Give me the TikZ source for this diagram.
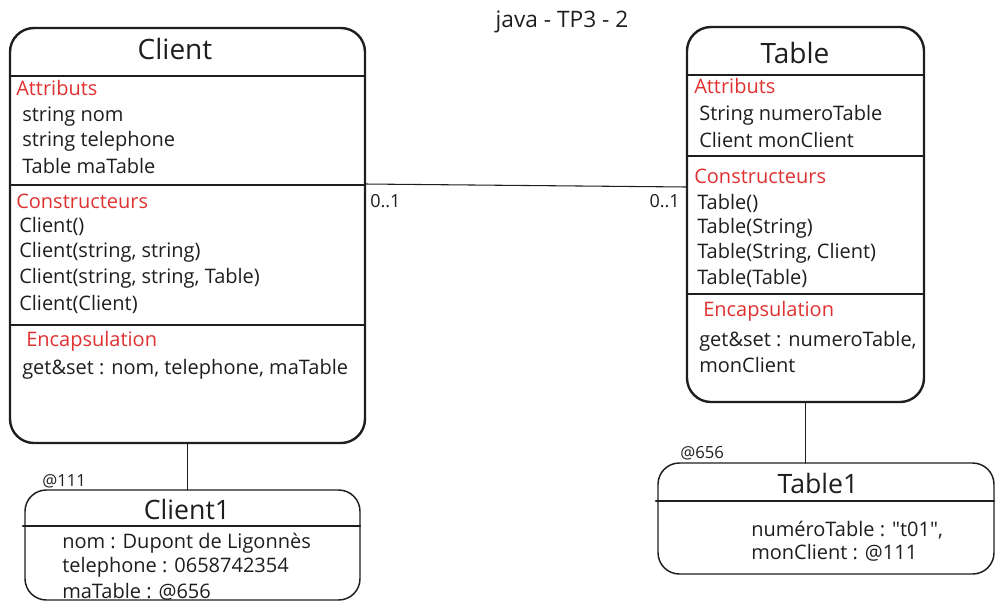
\documentclass[tikz,border=0pt]{standalone}
\usepackage{fontspec}
\setmainfont{Open Sans}
\newfontfamily\straightquote{Open Sans}[Ligatures=TeXOff]
\usetikzlibrary{positioning}
\definecolor{ink}{HTML}{1E1E1E}
\definecolor{inkred}{HTML}{E03131}

\begin{document}
\begin{tikzpicture}[x=0.75pt, y=-0.75pt, line cap=round, line join=round,
  classbox/.style={draw=ink, line width=1.8pt, rounded corners=18pt, anchor=north west, outer sep=0pt, inner sep=0pt},
  objbox/.style={draw=ink, line width=1.1pt, rounded corners=16pt, anchor=north west, outer sep=0pt, inner sep=0pt},
  divider/.style={draw=ink, line width=1.8pt},
  link/.style={draw=ink, line width=0.8pt},
  title/.style={font=\fontsize{21}{24}\selectfont, text=ink, inner sep=0pt},
  objtitle/.style={font=\fontsize{20}{24}\selectfont, text=ink, inner sep=0pt},
  heading/.style={font=\fontsize{15}{18}\selectfont, text=inkred, anchor=west, inner sep=0pt},
  txt/.style={font=\fontsize{15}{18}\selectfont, text=ink, anchor=west, inner sep=0pt},
  small/.style={font=\fontsize{12.5}{15}\selectfont, text=ink, inner sep=0pt}]

\useasboundingbox (0,0) rectangle (1003,615);

% --- caption ---
\node[small, font=\fontsize{17}{20}\selectfont] (caption) at (562,22) {java - TP3 - 2};

% --- class Client ---
\node[classbox, minimum width=355*0.75pt, minimum height=415*0.75pt] (client) at (10,28) {};
\node[title] (clientname) at (175,49) {Client};
\draw[divider] (10,76) -- (365,76);
\draw[divider] (10,185) -- (365,185);
\draw[divider] (10,325) -- (365,325);

\node[heading] (cattr) at (16,88) {Attributs};
\foreach \t [count=\i] in {string nom, string telephone, Table maTable}
  \node[txt] (ca\i) at (22,117+24.5*\i-24.5) {\t};
\node[heading] (cctor) at (16,201) {Constructeurs};
\foreach \t [count=\i] in {Client(), {Client(string, string)}, {Client(string, string, Table)}, Client(Client)}
  \node[txt] (cc\i) at (19,226+26*\i-26) {\t};
\node[heading] (cenc) at (26,341) {Encapsulation};
\node[txt] (cget) at (22,369) {get\&set : nom, telephone, maTable};

% --- class Table ---
\node[classbox, minimum width=237*0.75pt, minimum height=375*0.75pt] (table) at (687,27) {};
\node[title] (tablename) at (795,53) {Table};
\draw[divider] (687,75) -- (924,75);
\draw[divider] (687,156) -- (924,156);
\draw[divider] (687,294) -- (924,294);

\node[heading] (tattr) at (694,86) {Attributs};
\foreach \t [count=\i] in {String numeroTable, Client monClient}
  \node[txt] (ta\i) at (699,115+25*\i-25) {\t};
\node[heading] (tctor) at (694,176) {Constructeurs};
\foreach \t [count=\i] in {Table(), Table(String), {Table(String, Client)}, Table(Table)}
  \node[txt] (tc\i) at (697,203+25*\i-25) {\t};
\node[heading] (tenc) at (703,311) {Encapsulation};
\node[txt] (tget1) at (699,341) {get\&set : numeroTable,};
\node[txt] (tget2) at (699,365) {monClient};

% --- association Client -- Table ---
\coordinate (assocL) at (365,184);
\coordinate (assocR) at (687,187);
\draw[link] (assocL) -- (assocR);
\node[small, font=\fontsize{13.5}{16}\selectfont, anchor=west] (multL) at (370,201) {0..1};
\node[small, font=\fontsize{13.5}{16}\selectfont, anchor=east] (multR) at (680,201) {0..1};

% --- object Client1 ---
\node[objbox, minimum width=335*0.75pt, minimum height=110*0.75pt] (client1) at (25,490) {};
\node[objtitle] (client1name) at (187,509) {Client1};
\draw[divider] (23,526) -- (360,526);
\node[small, anchor=west] (client1addr) at (42,481) {@111};
\foreach \t [count=\i] in {nom : Dupont de Ligonnès, telephone : 0658742354, maTable : @656}
  \node[txt] (o1\i) at (62,543+24.5*\i-24.5) {\t};

% --- object Table1 ---
\node[objbox, minimum width=336*0.75pt, minimum height=111*0.75pt] (table1) at (658,463) {};
\node[objtitle] (table1name) at (818,483) {Table1};
\draw[divider] (656,501) -- (994,501);
\node[small, anchor=west] (table1addr) at (680,453) {@656};
\node[txt] (o21) at (751,530) {numéroTable : {\straightquote "t01"},};
\node[txt] (o22) at (751,553) {monClient : @111};

% --- instance links ---
\draw[link] (client.south) -- (client.south |- client1.north);
\draw[link] (table.south) -- (table.south |- table1.north);

\end{tikzpicture}
\end{document}
